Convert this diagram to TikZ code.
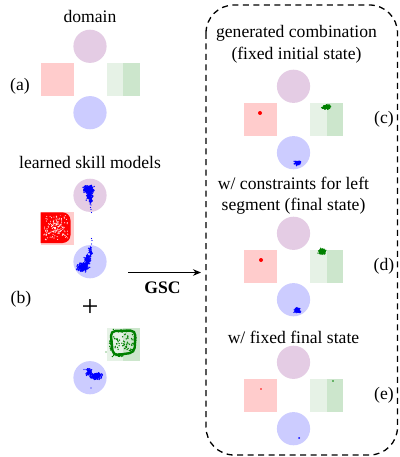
\documentclass[tikz,border=0pt]{standalone}
\usepackage{fontspec}
\setmainfont{Liberation Serif}
\usetikzlibrary{arrows.meta}

\definecolor{lpurple}{RGB}{228,204,228}
\definecolor{lred}{RGB}{255,204,204}
\definecolor{lgreenA}{RGB}{230,242,230}
\definecolor{lgreenB}{RGB}{204,230,204}
\definecolor{lblue}{RGB}{204,204,255}
\definecolor{dgreen}{RGB}{0,128,0}

\def\dotr{0.75}
% gaussian-like point cloud: cx, cy, sx, sy, count, colour
\newcommand\dotcloud[6]{%
  \foreach \k in {1,...,#5}{%
    \pgfmathsetmacro\dx{(rand+rand+rand)*#3}%
    \pgfmathsetmacro\dy{(rand+rand+rand)*#4}%
    \fill[#6] ({#1+\dx},{#2+\dy}) circle (\dotr);
  }}
% uniform point cloud in a box: cx, cy, half width, half height, count, colour
\newcommand\dotbox[6]{%
  \foreach \k in {1,...,#5}{%
    \pgfmathsetmacro\dx{rand*#3}%
    \pgfmathsetmacro\dy{rand*#4}%
    \fill[#6] ({#1+\dx},{#2+\dy}) circle (\dotr);
  }}
% domain pieces around a centre (cx, cy)
\newcommand\topdisk[2]{\fill[lpurple] ({#1},{#2-33.2}) circle (16.6);}
\newcommand\botdisk[2]{\fill[lblue] ({#1},{#2+33.2}) circle (16.6);}
\newcommand\redsq[2]{\fill[lred] ({#1-49.5},{#2-16.6}) rectangle ({#1-16.5},{#2+16.6});}
\newcommand\greensq[2]{%
  \fill[lgreenA] ({#1+16.5},{#2-16.6}) rectangle ({#1+33},{#2+16.6});
  \fill[lgreenB] ({#1+33},{#2-16.6}) rectangle ({#1+49.5},{#2+16.6});}
\newcommand\fulldomain[2]{\topdisk{#1}{#2}\botdisk{#1}{#2}\redsq{#1}{#2}\greensq{#1}{#2}}

\begin{document}
\begin{tikzpicture}[x=1pt,y=-1pt,
  every node/.style={inner sep=0pt,font=\fontsize{17.6pt}{21pt}\selectfont},
  lbl/.style={anchor=base},
  frame/.style={draw=black,line width=1.3pt,dash pattern=on 6pt off 4.5pt,rounded corners=28pt}]
\pgfmathsetseed{11}
\fill[white] (0,0) rectangle (399,457);
\useasboundingbox (0,0) rectangle (399,457);

% ---------- (a) domain ----------
\node[lbl] (tdomain) at (90,23) {domain};
\fulldomain{90}{79.5}
\node[lbl] (la) at (20,91) {(a)};

% ---------- (b) learned skill models ----------
\node[lbl] (tlearn) at (90,168) {learned skill models};
\topdisk{90}{228.5}
\redsq{90}{228.5}
\botdisk{90}{228.5}
% red model
\begin{scope}
  \clip (40.5,211.9) rectangle (73.5,245.1);
  \fill[red,rounded corners=8pt] (30,212.3) rectangle (70.5,243);
\end{scope}
\begin{scope}
  \def\dotr{0.55}
  \clip (43,215) rectangle (68,240.5);
  \dotcloud{56}{227.5}{4.5}{4.5}{90}{white}
  \dotbox{55.5}{227.5}{12.5}{12.5}{75}{white}
\end{scope}
% blue model in the upper disk
\dotcloud{88.5}{189.5}{2.4}{1.7}{220}{blue}
\dotcloud{89.5}{195.5}{1.5}{2.1}{110}{blue}
\dotcloud{90.5}{200.5}{0.7}{1.4}{30}{blue}
\foreach \p in {(91,205),(90.5,207.5),(91,209.5),(91.5,212.5)} \fill[blue] \p circle (0.7);
% blue model in the lower disk
\dotcloud{83}{267}{2.5}{2}{240}{blue}
\dotcloud{87.5}{259.5}{1.5}{2.1}{110}{blue}
\dotcloud{90.5}{251.5}{0.8}{2.1}{45}{blue}
\foreach \p in {(91.5,244),(92,240.5),(91.5,238.5)} \fill[blue] \p circle (0.7);

\node[lbl] (lb) at (21,303) {(b)};
\node (plus) at (90,308.5) {\fontsize{30pt}{30pt}\selectfont +};

\greensq{90}{344.5}
\botdisk{90}{344.5}
% green model
\draw[dgreen,line width=2.4pt,rounded corners=5pt]
  (110.5,331) -- (135.5,330.5) -- (134.5,352.5) -- (113,355.5) -- cycle;
\dotbox{123}{342}{9.5}{8.5}{55}{dgreen}
\dotcloud{111}{343}{0.7}{3}{30}{dgreen}
\dotcloud{119}{355}{3}{0.7}{30}{dgreen}
\dotcloud{123}{331}{3.5}{0.6}{25}{dgreen}
\dotcloud{135}{341}{0.6}{3}{25}{dgreen}
\fill[dgreen] (106,352) circle (0.7);
% blue model
\dotcloud{89}{372}{1.4}{1.5}{80}{blue}
\dotcloud{96}{376}{2.6}{1.4}{170}{blue}
\foreach \p in {(91,388),(84,369.5)} \fill[blue] \p circle (0.7);

% ---------- GSC arrow ----------
\coordinate (arrS) at (128,272.5);
\coordinate (arrE) at (201,272.5);
\draw[line width=0.9pt,-{Stealth[length=8pt,width=6.5pt]}] (arrS) -- (arrE);
\node[lbl,font=\fontsize{17.6pt}{21pt}\selectfont\bfseries] (gsc) at (162.5,293) {GSC};

% ---------- generated combinations ----------
\draw[frame] (206,5) rectangle (397.5,455);

% (c)
\node[lbl] (tc1) at (296.5,38) {generated combination};
\node[lbl] (tc2) at (296.5,59.5) {(fixed initial state)};
\fulldomain{293.5}{119.5}
\fill[red] (260,113) circle (2);
\dotcloud{326}{107}{1.8}{1.1}{130}{dgreen}
\dotcloud{297.5}{163}{1.4}{1}{90}{blue}
\node[lbl] (lc) at (384,124) {(c)};

% (d)
\node[lbl] (td1) at (293.5,189) {w/ constraints for left};
\node[lbl] (td2) at (293.5,210) {segment (final state)};
\fulldomain{293.5}{266.5}
\fill[red] (261,260) circle (2);
\dotcloud{322}{251.5}{1.6}{1.4}{120}{dgreen}
\dotcloud{297}{310}{1.4}{1.2}{90}{blue}
\node[lbl] (ld) at (384,270) {(d)};

% (e)
\node[lbl] (te1) at (293.5,343) {w/ fixed final state};
\fulldomain{293.5}{395.5}
\fill[red] (261,389) circle (0.9);
\fill[dgreen] (333,381) circle (0.9);
\fill[blue] (299,438) circle (1);
\node[lbl] (le) at (384,399) {(e)};
\end{tikzpicture}
\end{document}
